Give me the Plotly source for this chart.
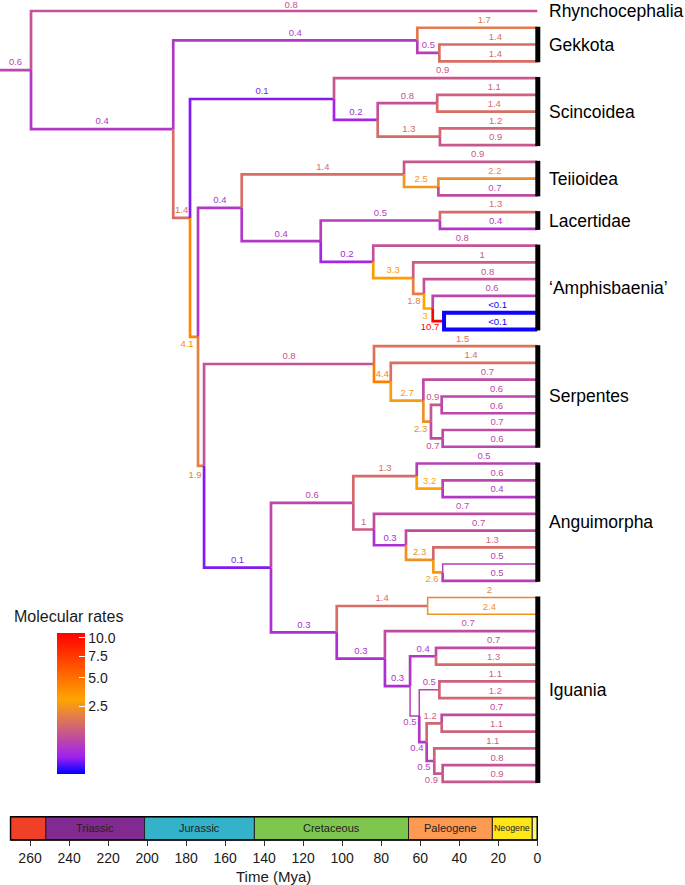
import numpy as np
import plotly.graph_objects as go

# ------------------------------------------------------------------ data
tip_names = ["Rhynchocephalia"] + [f"t{i}" for i in range(1, 47)]

node_names = ["origin", "Root", "Sq", "G", "G2", "U", "Sc", "Sc2", "Sc3", "Sc4",
              "E", "Lt", "Te", "Te2", "Lb", "La", "A", "A2", "A3", "A4", "A5",
              "T", "Se", "Se2", "Se3", "Se4", "Se5", "Se6",
              "AI", "An", "An1", "An1b", "An2", "An3", "An4", "An5",
              "Ig", "Ig1", "Ig2", "Ig3", "Ig4", "Ig5", "Ig6", "Ig7", "Ig8", "Ig9", "Ig10"]
node_ages = [275.4, 259.5, 186.6, 61.5, 50.2, 178.0, 104.2, 81.8, 51.3, 49.9,
             173.9, 151.5, 68.3, 50.7, 111.0, 49.9, 84.1, 63.6, 58.1, 53.6, 47.8,
             170.8, 83.7, 75.1, 58.4, 54.5, 49.0, 48.5,
             136.5, 94.3, 61.8, 48.5, 83.7, 67.3, 53.3, 48.5,
             102.8, 56.2, 78.1, 65.2, 51.9, 60.5, 50.2, 56.7, 49.0, 52.8, 48.5]

edge_parent = ["origin", "Root", "Root", "Sq", "G", "G", "G2", "G2", "Sq", "U",
               "Sc", "Sc", "Sc2", "Sc3", "Sc3", "Sc2", "Sc4", "Sc4", "U", "E",
               "Lt", "Te", "Te", "Te2", "Te2", "Lt", "Lb", "La", "La", "Lb",
               "A", "A", "A2", "A2", "A3", "A3", "A4", "A4", "A5", "A5",
               "E", "T", "Se", "Se", "Se2", "Se2", "Se3", "Se3", "Se4", "Se5",
               "Se5", "Se4", "Se6", "Se6", "T", "AI", "An", "An1", "An1", "An1b",
               "An1b", "An", "An2", "An2", "An3", "An3", "An4", "An4", "An5", "An5",
               "AI", "Ig", "Ig1", "Ig1", "Ig", "Ig2", "Ig2", "Ig3", "Ig4", "Ig4",
               "Ig3", "Ig5", "Ig6", "Ig6", "Ig5", "Ig7", "Ig8", "Ig8", "Ig7", "Ig9",
               "Ig9", "Ig10", "Ig10"]
edge_child = ["Root", "Rhynchocephalia", "Sq", "G", "t1", "G2", "t2", "t3", "U", "Sc",
              "t4", "Sc2", "Sc3", "t5", "t6", "Sc4", "t7", "t8", "E", "Lt",
              "Te", "t9", "Te2", "t10", "t11", "Lb", "La", "t12", "t13", "A",
              "t14", "A2", "t15", "A3", "t16", "A4", "t17", "A5", "t18", "t19",
              "T", "Se", "t20", "Se2", "t21", "Se3", "t22", "Se4", "Se5", "t23",
              "t24", "Se6", "t25", "t26", "AI", "An", "An1", "t27", "An1b", "t28",
              "t29", "An2", "t30", "An3", "t31", "An4", "t32", "An5", "t33", "t34",
              "Ig", "Ig1", "t35", "t36", "Ig2", "t37", "Ig3", "Ig4", "t38", "t39",
              "Ig5", "Ig6", "t40", "t41", "Ig7", "Ig8", "t42", "t43", "Ig9", "t44",
              "Ig10", "t45", "t46"]
edge_rate = [0.6, 0.8, 0.4, 0.4, 1.7, 0.5, 1.4, 1.4, 1.4, 0.1,
             0.9, 0.2, 0.8, 1.1, 1.4, 1.3, 1.2, 0.9, 4.1, 0.4,
             1.4, 0.9, 2.5, 2.2, 0.7, 0.4, 0.5, 1.3, 0.4, 0.2,
             0.8, 3.3, 1, 1.8, 0.8, 3, 0.6, 10.7, 0.001, 0.001,
             1.9, 0.8, 1.5, 4.4, 1.4, 2.7, 0.7, 2.3, 0.9, 0.6,
             0.6, 0.7, 0.7, 0.6, 0.1, 0.6, 1.3, 0.5, 3.2, 0.6,
             0.4, 1, 0.7, 0.3, 0.7, 2.3, 1.3, 2.6, 0.5, 0.5,
             0.3, 1.4, 2, 2.4, 0.3, 0.7, 0.3, 0.4, 0.7, 1.3,
             0.5, 0.5, 1.1, 1.2, 0.4, 1.2, 0.7, 1.1, 0.5, 1.1,
             0.9, 0.8, 0.9]

clade_names = ["Rhynchocephalia", "Gekkota", "Scincoidea", "Teiioidea", "Lacertidae",
               "\u2018Amphisbaenia\u2019", "Serpentes", "Anguimorpha", "Iguania"]
clade_first = [0, 1, 4, 9, 12, 14, 20, 27, 35]
clade_last = [0, 3, 8, 11, 13, 19, 26, 34, 46]

period_names = ["", "Triassic", "Jurassic", "Cretaceous", "Paleogene", "Neogene", ""]
period_start = [270.0, 251.9, 201.3, 145.0, 66.0, 23.03, 2.58]
period_end = [251.9, 201.3, 145.0, 66.0, 23.03, 2.58, 0.0]

time_ticks = list(range(0, 261, 20))
rate_ticks = [2.5, 5.0, 7.5, 10.0]
rate_max = 10.7

# ------------------------------------------------------------------ styles
FONT = "Liberation Sans, Arial, Helvetica, sans-serif"
period_colors = ["#F04028", "#812B92", "#34B2C9", "#7FC64E", "#FD9A52", "#FFE619", "#F9F97F"]
period_font = [11, 11, 11, 11, 11, 8.8, 8]
COLORSCALE = [[0.0, "#0000FF"], [0.12, "#A020F0"], [0.53, "#FFA500"], [1.0, "#FF0000"]]
W, H = 685, 885
MARGIN_B = 45
PX_PER_MYR = 1.951
PX_ZERO = 537.3          # pixel of t = 0
PX_PER_TIP = 16.76
PX_TIP0 = 11.0
thin_edges = {"t35", "t36", "Ig5", "Ig6", "t33"}
thick_edges = {"t18", "t19"}
LW_NORMAL, LW_THIN, LW_THICK = 2.7, 1.5, 4.0
# label nudges (pixels) for crowded short branches: (dx, dy)
label_nudge = {"E": (-7, 8.3), "T": (-6, 9.7), "A3": (-4.7, 8), "A4": (-3.3, 8),
               "A5": (-8.3, 6.8), "Se4": (-6.5, 8), "Se5": (-3.6, -7), "Se6": (-4, 8),
               "An5": (-6, 7), "Ig5": (-4.7, 7), "Ig7": (-6, 6), "Ig8": (-4, -7),
               "Ig9": (-6.5, 7), "Ig10": (-7, 7), "Rhynchocephalia": (7, -5.3)}
LABEL_DY = -7.0
TIP_LABEL_DX = 7.0


def t_of_px(px):
    return (PX_ZERO - px) / PX_PER_MYR


def paper_y(px):
    return (H - MARGIN_B - px) / (H - MARGIN_B)


def hex_to_rgb(h):
    h = h.lstrip("#")
    return np.array([int(h[i:i + 2], 16) for i in (0, 2, 4)], dtype=float)


def rate_color(r):
    s = np.sqrt(r) / np.sqrt(rate_max)
    s = min(max(s, 0.0), 1.0)
    for (p0, c0), (p1, c1) in zip(COLORSCALE[:-1], COLORSCALE[1:]):
        if p0 <= s <= p1:
            f = (s - p0) / (p1 - p0)
            c = hex_to_rgb(c0) * (1 - f) + hex_to_rgb(c1) * f
            return "rgb(%d,%d,%d)" % tuple(np.round(c).astype(int))
    return COLORSCALE[-1][1]


# ------------------------------------------------------------------ tree geometry
age = {n: 0.0 for n in tip_names}
age.update(dict(zip(node_names, node_ages)))
children = {}
for p, c in zip(edge_parent, edge_child):
    children.setdefault(p, []).append(c)
ypos = {n: float(i) for i, n in enumerate(tip_names)}


def get_y(n):
    if n not in ypos:
        ypos[n] = float(np.mean([get_y(c) for c in children[n]]))
    return ypos[n]


get_y("origin")
ypos["origin"] = ypos["Root"]

fig = go.Figure()
lab_x, lab_y, lab_t, lab_c = [], [], [], []
for p, c, r in zip(edge_parent, edge_child, edge_rate):
    col = rate_color(r)
    w = LW_THIN if c in thin_edges else (LW_THICK if c in thick_edges else LW_NORMAL)
    tp, tc = age[p], age[c]
    yp, yc = ypos[p], ypos[c]
    xs = [tp, tc] if p == "origin" else [tp, tp, tc]
    ys = [yc, yc] if p == "origin" else [yp, yc, yc]
    fig.add_trace(go.Scatter(x=xs, y=ys, mode="lines", line=dict(color=col, width=w),
                             hoverinfo="skip", showlegend=False))
    is_tip = c in tip_names
    mid = (tp + tc) / 2
    dx, dy = label_nudge.get(c, (TIP_LABEL_DX if is_tip else 0.0, LABEL_DY))
    lab_x.append(mid - dx / PX_PER_MYR)
    lab_y.append(yc + dy / PX_PER_TIP)
    lab_t.append("<0.1" if r < 0.1 else f"{r:g}")
    lab_c.append(col)

fig.add_trace(go.Scatter(x=lab_x, y=lab_y, mode="text", text=lab_t,
                         textfont=dict(size=9.5, color=lab_c, family=FONT),
                         textposition="middle center", hoverinfo="skip",
                         showlegend=False, cliponaxis=False))

# colour bar (sqrt-scaled rates)
cb_top, cb_bot = 633.3, 774.0
fig.add_trace(go.Scatter(
    x=[-300], y=[200], mode="markers", hoverinfo="skip", showlegend=False,
    marker=dict(color=[0.0], colorscale=COLORSCALE, cmin=0.0, cmax=np.sqrt(rate_max),
                showscale=True,
                colorbar=dict(thickness=28, thicknessmode="pixels",
                              len=cb_bot - cb_top, lenmode="pixels",
                              x=57.3 / W, xanchor="left", xpad=0, ypad=0,
                              y=paper_y((cb_top + cb_bot) / 2), yanchor="middle",
                              tickvals=[np.sqrt(v) for v in rate_ticks],
                              ticktext=[f"{v:.1f}" for v in rate_ticks],
                              ticks="inside", ticklen=6, tickcolor="white", tickwidth=1,
                              tickfont=dict(size=14, color="#1a1a1a", family=FONT),
                              outlinewidth=0))))

shapes = []
annotations = []
# clade bars and labels
for name, f, l in zip(clade_names, clade_first, clade_last):
    if l > f:
        shapes.append(dict(type="rect", xref="x", yref="y",
                           x0=t_of_px(535.3), x1=t_of_px(540.3),
                           y0=f - 1.0 / PX_PER_TIP, y1=l + 1.0 / PX_PER_TIP,
                           fillcolor="black", line=dict(width=0), layer="above"))
    annotations.append(dict(x=t_of_px(547.3), y=(f + l) / 2, xref="x", yref="y",
                            text=name, showarrow=False, xanchor="left", yanchor="middle",
                            font=dict(size=17.5, color="black", family=FONT)))

# geological time scale
bar_y1 = paper_y(816.7)
for nm, s, e, col, fs in zip(period_names, period_start, period_end, period_colors, period_font):
    shapes.append(dict(type="rect", xref="x", yref="paper", x0=s, x1=e, y0=0.0, y1=bar_y1,
                       fillcolor=col, line=dict(color="#222222", width=1), layer="above"))
    if nm:
        annotations.append(dict(x=(s + e) / 2, y=bar_y1 / 2, xref="x", yref="paper",
                                text=nm, showarrow=False, xanchor="center", yanchor="middle",
                                font=dict(size=fs, color="#222222", family=FONT)))
shapes.append(dict(type="rect", xref="x", yref="paper", x0=period_start[0], x1=0.0,
                   y0=0.0, y1=bar_y1, line=dict(color="black", width=1.4), layer="above"))

annotations.append(dict(x=12 / W, y=paper_y(616.7), xref="paper", yref="paper",
                        text="Molecular rates", showarrow=False,
                        xanchor="left", yanchor="middle",
                        font=dict(size=16, color="#1a1a1a", family=FONT)))
annotations.append(dict(x=(period_start[0] + 0.0) / 2, y=paper_y(876), xref="x", yref="paper",
                        text="Time (Mya)", showarrow=False,
                        xanchor="center", yanchor="middle",
                        font=dict(size=15, color="#1a1a1a", family=FONT)))

fig.update_layout(
    width=W, height=H, margin=dict(l=0, r=0, t=0, b=MARGIN_B, autoexpand=False),
    plot_bgcolor="white", paper_bgcolor="white", showlegend=False,
    shapes=shapes, annotations=annotations,
    xaxis=dict(range=[t_of_px(0), t_of_px(W)], tickvals=time_ticks,
               ticktext=[str(v) for v in time_ticks], ticks="outside", ticklen=5,
               tickwidth=1, tickcolor="#333333", showgrid=False, zeroline=False,
               showline=False, tickfont=dict(size=14, color="#1a1a1a", family=FONT),
               automargin=False, fixedrange=True),
    yaxis=dict(range=[(H - MARGIN_B - PX_TIP0) / PX_PER_TIP, -PX_TIP0 / PX_PER_TIP],
               visible=False, fixedrange=True),
)

fig.write_html("out.html", config={"displayModeBar": False, "staticPlot": True},
               post_script="document.body.style.margin='0';document.body.style.padding='0';")
